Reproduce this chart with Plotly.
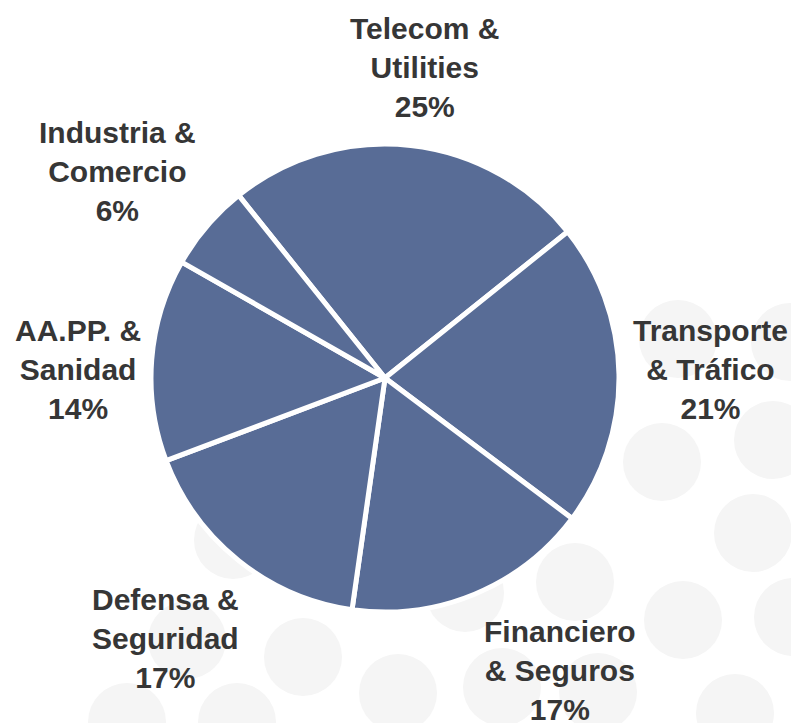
import plotly.graph_objects as go

# Data
sectors = ["Telecom &<br>Utilities", "Transporte<br>& Tráfico", "Financiero<br>& Seguros",
           "Defensa &<br>Seguridad", "AA.PP. &<br>Sanidad", "Industria &<br>Comercio"]
shares = [25, 21, 17, 17, 14, 6]

W, H = 791, 723


def px(x):
    return x / W


def py(y):
    return 1 - y / H


cx, cy, R = 385, 378, 234

fig = go.Figure()

# decorative background dots (layout only)
dots = [(678, 339), (790, 342), (662, 462), (773, 440), (753, 533), (683, 620), (793, 617),
        (735, 713), (575, 582), (598, 692), (502, 687), (398, 693), (465, 593), (233, 540),
        (187, 640), (303, 657), (127, 722), (237, 722)]
dr = 39
for x, y in dots:
    fig.add_shape(type="circle", xref="paper", yref="paper",
                  x0=px(x - dr), x1=px(x + dr), y0=py(y + dr), y1=py(y - dr),
                  fillcolor="#f5f5f5", line=dict(width=0), layer="below")

fig.add_trace(go.Pie(
    labels=sectors, values=shares, sort=False, direction="clockwise", rotation=-38.7,
    marker=dict(colors=["#586c96"] * len(shares), line=dict(color="white", width=5)),
    textinfo="none",
    domain=dict(x=[px(cx - R), px(cx + R)], y=[py(cy + R), py(cy - R)]),
    showlegend=False, hoverinfo="label+percent",
))

# label block centres (layout positions, in pixels)
label_pos = [(425, 67), (710, 369), (560, 670), (165, 638), (78, 369), (118, 171)]
total = sum(shares)
for lab, val, (lx, ly) in zip(sectors, shares, label_pos):
    fig.add_annotation(
        x=px(lx), y=py(ly), xref="paper", yref="paper", xanchor="center", yanchor="middle",
        text=f"<b>{lab}<br>{round(100 * val / total)}%</b>", showarrow=False, align="center",
        font=dict(family="Liberation Sans, Arial, sans-serif", size=30, color="#363636"),
    )

fig.update_layout(width=W, height=H, margin=dict(l=0, r=0, t=0, b=0),
                  paper_bgcolor="white", plot_bgcolor="white")
fig.write_html("out.html", config={"displayModeBar": False},
               post_script="document.body.style.margin='0';document.body.style.overflow='hidden';")
